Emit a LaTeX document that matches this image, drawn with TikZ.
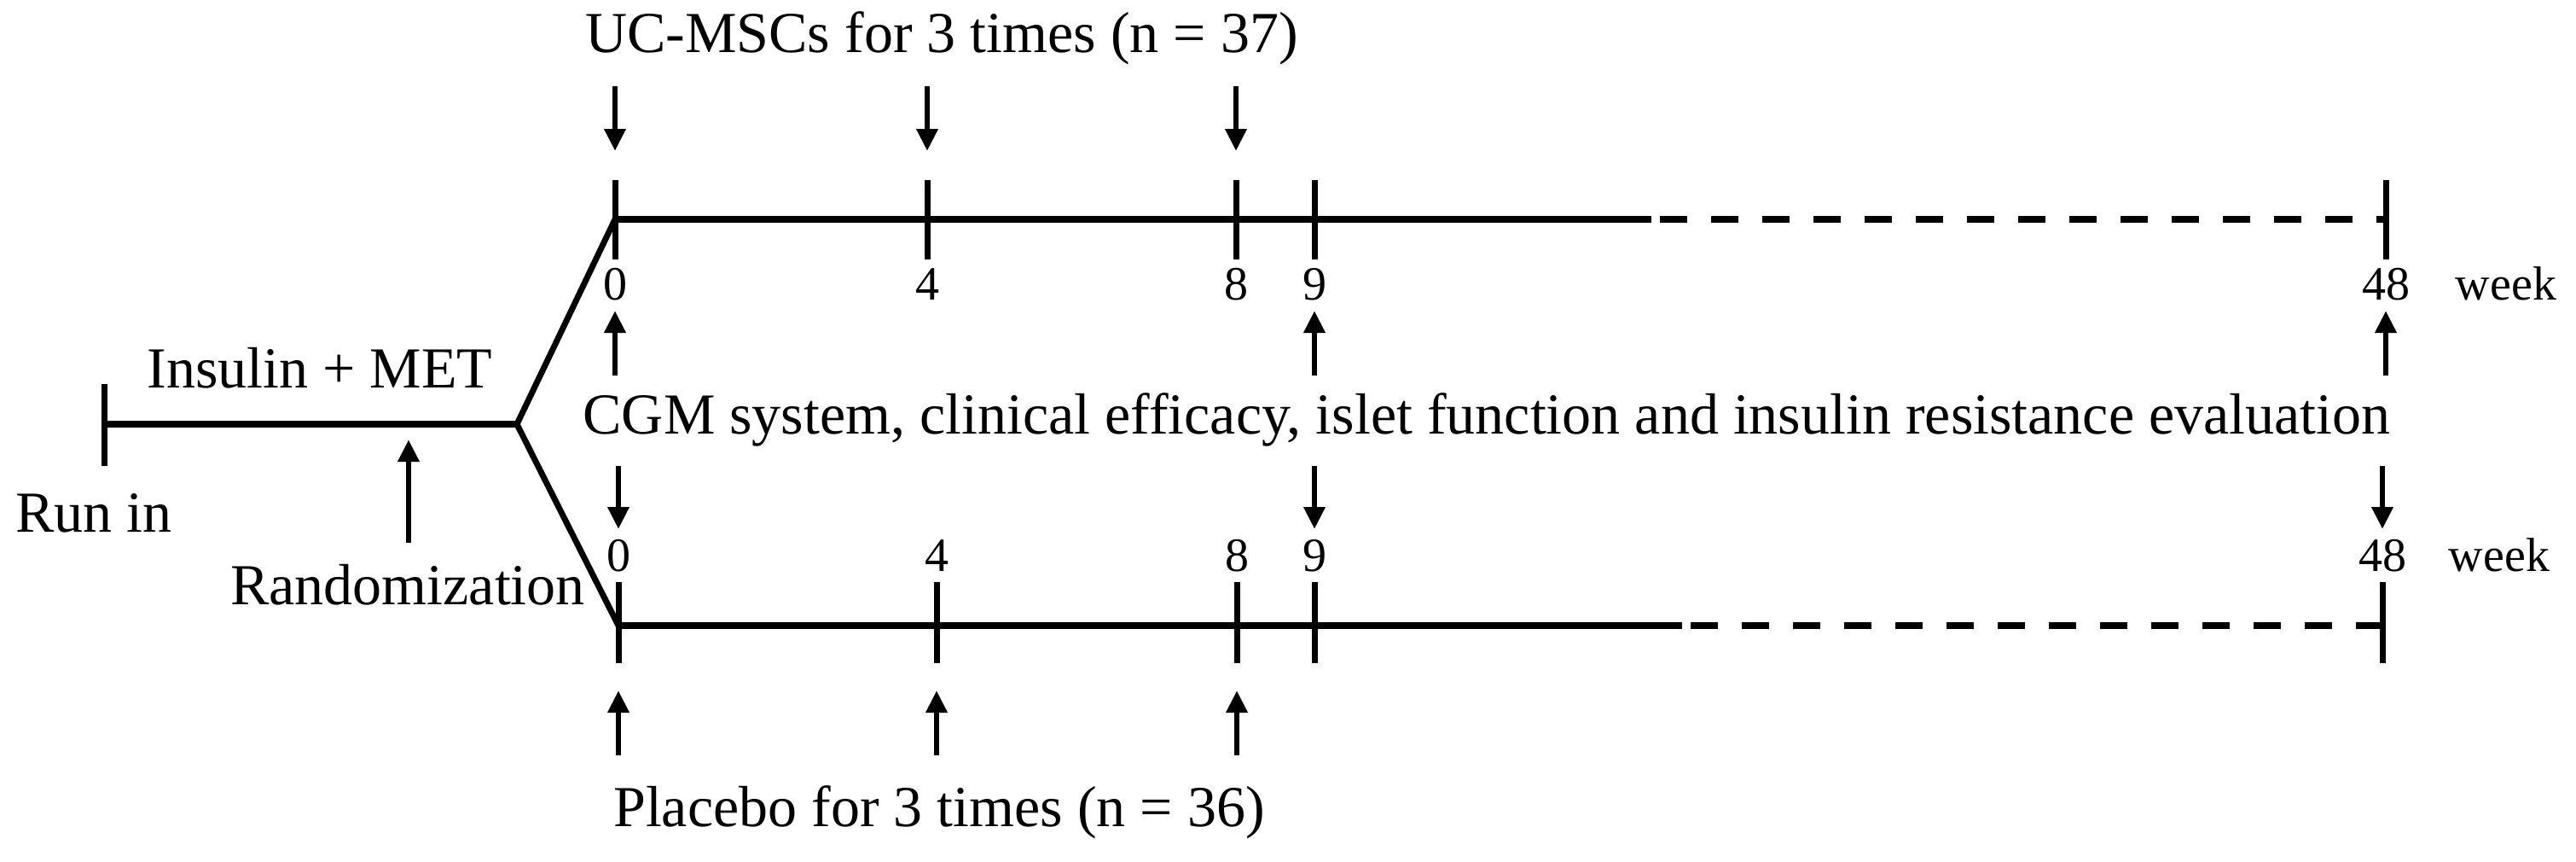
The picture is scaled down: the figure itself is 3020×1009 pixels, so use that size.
\documentclass[tikz,border=0pt]{standalone}
\usepackage{fontspec}
\setmainfont{Liberation Serif}
\usetikzlibrary{arrows.meta}

\begin{document}
\begin{tikzpicture}[x=0.25pt, y=-0.25pt, line width=1.75pt,
        lbl/.style={anchor=base, inner sep=0pt, font=\fontsize{14}{16}\selectfont},
        txt/.style={anchor=base, inner sep=0pt, font=\fontsize{17}{20}\selectfont},
        arr/.style={-{Triangle[length=6.5pt, width=6pt]}, line width=1.7pt},
        main/.style={line width=1.85pt}]
        \useasboundingbox (0,0) rectangle (3020,1009);
        % run in
        \coordinate (r) at (122, 497);
        \coordinate (b) at (606, 497);
        \coordinate (rand) at (479, 636);
        \draw[main] (r) -- (b);
        \draw ([yshift=11.75pt]r) -- ([yshift=-12.25pt]r);
        \draw[arr] (rand) -- ([yshift=30.25pt]rand);
        % both arms
        \foreach \n/\px in {0/721, 4/1087, 8/1449, 9/1541, 48/2797} {
            \coordinate (u\n) at (\px, 257);
            \draw ([yshift=11.5pt]u\n) -- ([yshift=-11.75pt]u\n);
            \node[lbl] (ul\n) at (\px, 351) {\n};
        }
        \foreach \n/\px in {0/725, 4/1098, 8/1450, 9/1541, 48/2793} {
            \coordinate (l\n) at (\px, 733);
            \draw ([yshift=12.75pt]l\n) -- ([yshift=-11pt]l\n);
            \node[lbl] (ll\n) at (\px, 669) {\n};
        }
        \coordinate (ue) at (1936, 257);
        \coordinate (ud) at (1946, 257);
        \coordinate (le) at (1972, 733);
        \coordinate (ld) at (1982, 733);
        \draw (b) -- (u0);
        \draw (b) -- (l0);
        \draw[main] (u0) -- (ue);
        \draw[main, dash pattern=on 8pt off 7pt] (ud) -- (u48);
        \draw[main] (l0) -- (le);
        \draw[main, dash pattern=on 8pt off 7pt] (ld) -- (l48);
        % arrows
        \foreach \n in {0, 4, 8} {
            \draw[arr] ([yshift=39pt]u\n) -- ([yshift=20pt]u\n);
            \draw[arr] ([yshift=-38pt]l\n) -- ([yshift=-19pt]l\n);
        }
        \foreach \n in {0, 9, 48} {
            \draw[arr] ([yshift=-45.75pt]u\n) -- ([yshift=-26.75pt]u\n);
            \draw[arr] ([yshift=46.75pt]l\n) -- ([yshift=28.25pt]l\n);
        }
        % texts
        \node[txt] (uc) at (1104, 61) {UC-MSCs for 3 times (n = 37)};
        \node[txt] (met) at (375, 454) {Insulin + MET};
        \node[txt] (cgm) at (1743, 508) {CGM system, clinical efficacy, islet function and insulin resistance evaluation};
        \node[txt] (run) at (110, 623) {Run in};
        \node[txt] (rnd) at (478, 708) {Randomization};
        \node[txt] (pla) at (1101, 968) {Placebo for 3 times (n = 36)};
        \node[lbl] (wk1) at (2938, 351) {week};
        \node[lbl] (wk2) at (2930, 669) {week};
\end{tikzpicture}
\end{document}
